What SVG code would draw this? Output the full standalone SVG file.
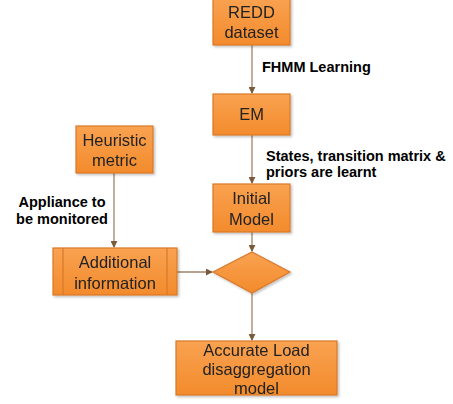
<svg xmlns="http://www.w3.org/2000/svg" width="453" height="404" viewBox="0 0 453 404">
<style>
.box{fill:url(#og);stroke:#d9782a;stroke-width:1.2}
.bt{font-family:"Liberation Sans",Arial,sans-serif;font-size:16.5px;fill:#222;text-anchor:middle}
.lb{font-family:"Liberation Sans",Arial,sans-serif;font-size:14.5px;font-weight:bold;fill:#000}
.cn{stroke:#a08468;stroke-width:1.3;fill:none}
</style>
<defs>
<linearGradient id="og" x1="0" y1="0" x2="0" y2="1">
<stop offset="0" stop-color="#f9a251"/>
<stop offset="1" stop-color="#f38b2c"/>
</linearGradient>
<marker id="ar" viewBox="0 0 8 8" refX="7" refY="4" markerWidth="7" markerHeight="7" orient="auto" markerUnits="userSpaceOnUse">
<path d="M0,0 L8,4 L0,8 z" fill="#7a5a3a"/>
</marker>
<filter id="sh" x="-10%" y="-10%" width="130%" height="130%">
<feDropShadow dx="1.5" dy="1.5" stdDeviation="1.2" flood-color="#000" flood-opacity="0.25"/>
</filter>
</defs>
<rect width="453" height="404" fill="#fff"/>
<g id="connectors">
<line class="cn" x1="252" y1="45" x2="252" y2="93" marker-end="url(#ar)"/>
<line class="cn" x1="252" y1="135" x2="252" y2="183" marker-end="url(#ar)"/>
<line class="cn" x1="252" y1="232" x2="252" y2="251" marker-end="url(#ar)"/>
<line class="cn" x1="114" y1="173" x2="114" y2="247" marker-end="url(#ar)"/>
<line class="cn" x1="177" y1="272" x2="212" y2="272" marker-end="url(#ar)"/>
<line class="cn" x1="252" y1="293" x2="252" y2="340" marker-end="url(#ar)"/>
</g>
<g id="redd" filter="url(#sh)">
<rect class="box" x="213" y="-2" width="77" height="47"/>
<text class="bt" x="251.5" y="18">REDD</text>
<text class="bt" x="251.5" y="38">dataset</text>
</g>
<g id="em" filter="url(#sh)">
<rect class="box" x="213" y="94" width="77" height="41"/>
<text class="bt" x="251.5" y="120">EM</text>
</g>
<g id="initial" filter="url(#sh)">
<rect class="box" x="213" y="184" width="77" height="48"/>
<text class="bt" x="251.5" y="204">Initial</text>
<text class="bt" x="251.5" y="225">Model</text>
</g>
<g id="heuristic" filter="url(#sh)">
<rect class="box" x="76" y="126" width="77" height="47"/>
<text class="bt" x="114.5" y="146">Heuristic</text>
<text class="bt" x="114.5" y="166">metric</text>
</g>
<g id="additional" filter="url(#sh)">
<rect class="box" x="53" y="248" width="124" height="47"/>
<line x1="63" y1="248" x2="63" y2="295" stroke="#d9782a" stroke-width="1.2"/>
<line x1="167" y1="248" x2="167" y2="295" stroke="#d9782a" stroke-width="1.2"/>
<text class="bt" x="115" y="268">Additional</text>
<text class="bt" x="115" y="289">information</text>
</g>
<g id="decision" filter="url(#sh)">
<polygon class="box" points="252,252 290,272 252,293 213,272"/>
</g>
<g id="accurate" filter="url(#sh)">
<rect class="box" x="176" y="341" width="161" height="54"/>
<text class="bt" x="256.5" y="356">Accurate Load</text>
<text class="bt" x="256.5" y="375">disaggregation</text>
<text class="bt" x="256.5" y="394">model</text>
</g>
<g id="labels">
<text class="lb" x="262" y="72">FHMM Learning</text>
<text class="lb" x="266" y="161">States, transition matrix &amp;</text>
<text class="lb" x="266" y="177">priors are learnt</text>
<text class="lb" x="62" y="207" text-anchor="middle">Appliance to</text>
<text class="lb" x="62" y="224" text-anchor="middle">be monitored</text>
</g>
</svg>
